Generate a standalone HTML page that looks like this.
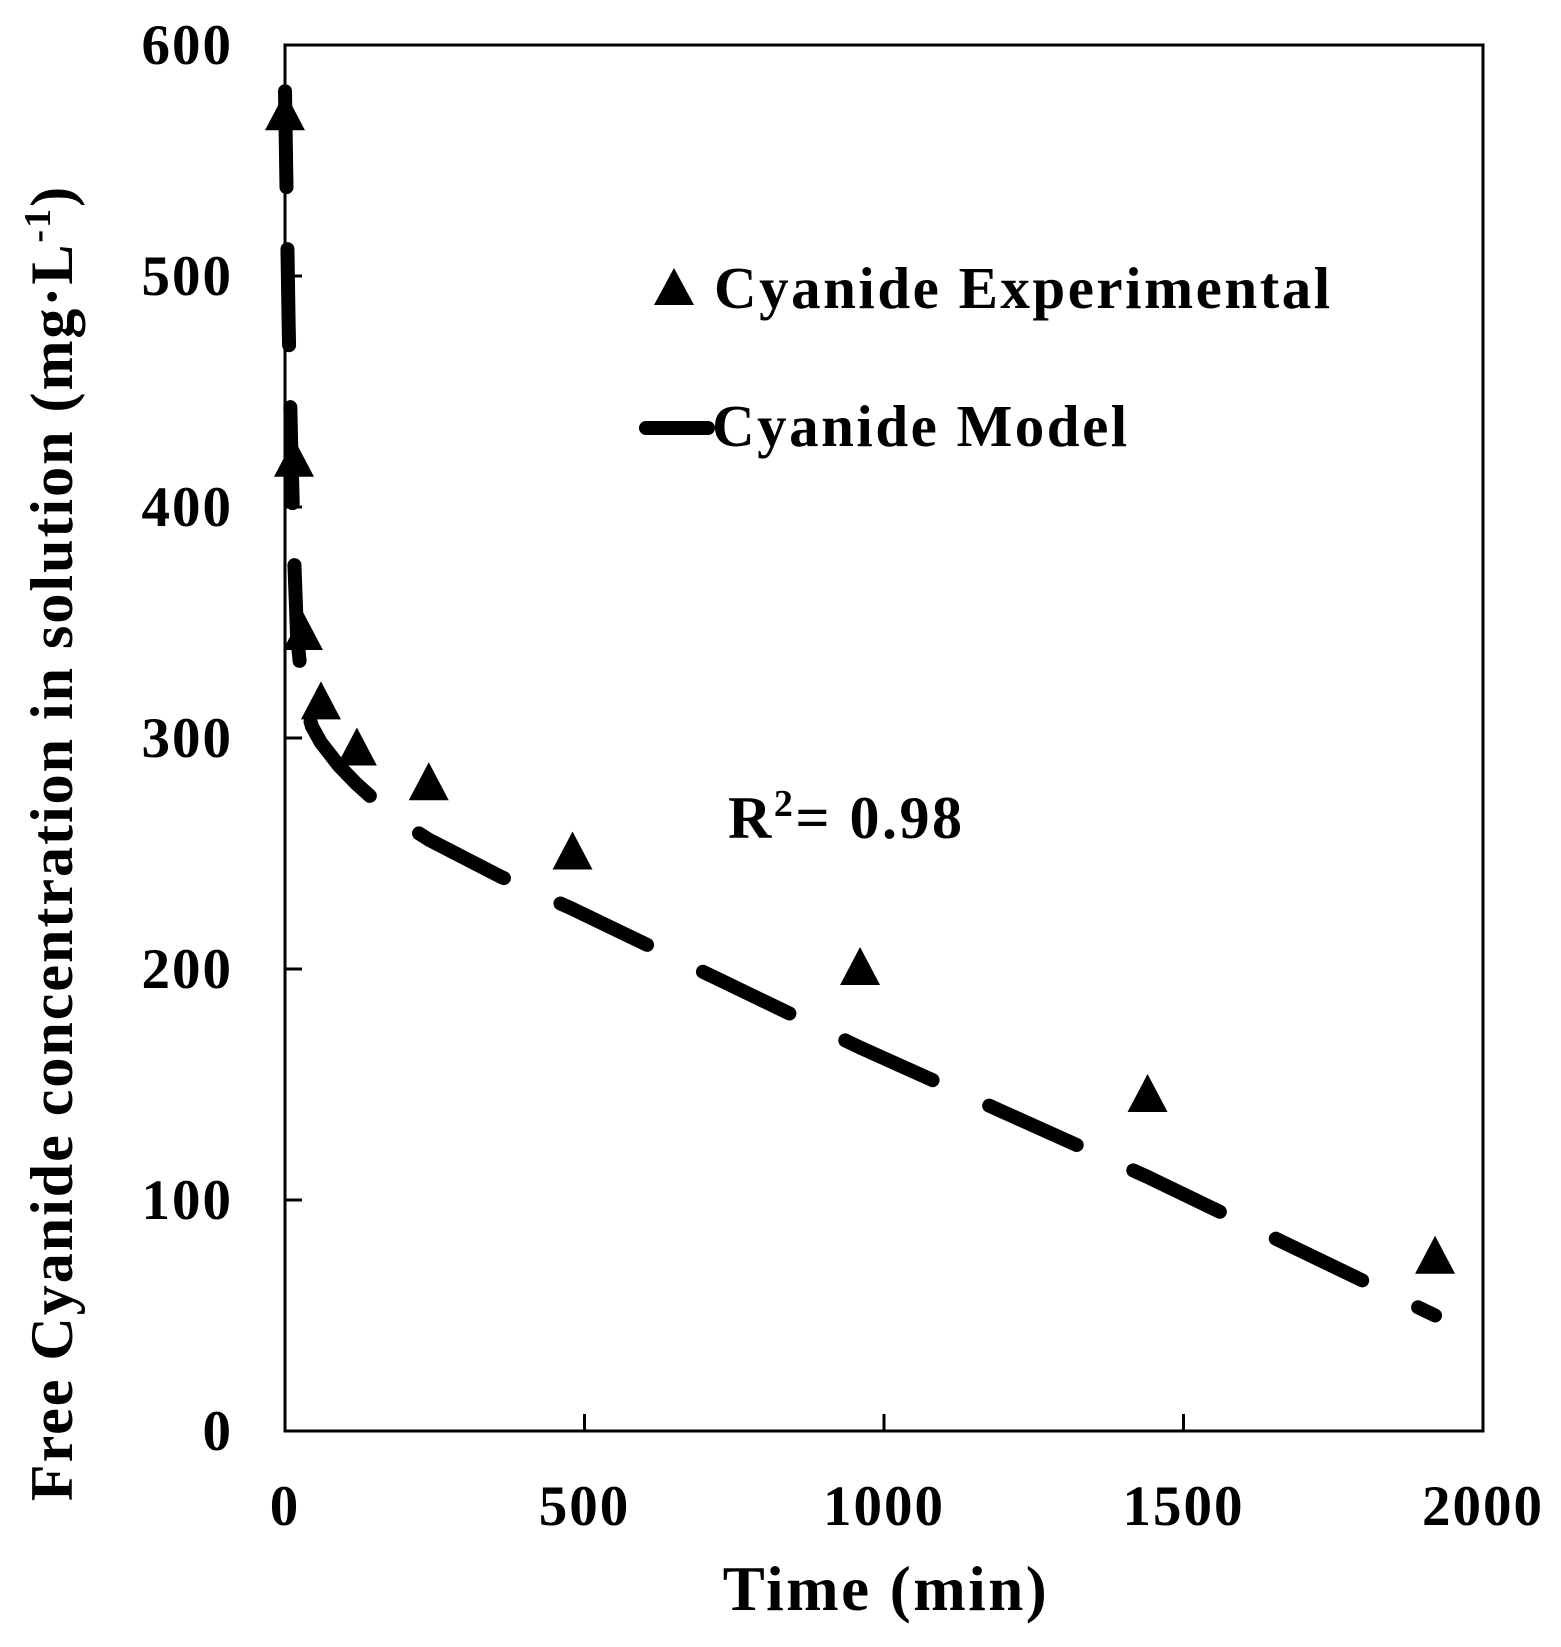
<!DOCTYPE html>
<html><head><meta charset="utf-8"><style>
html,body{margin:0;padding:0;background:#fff;}
svg{display:block;font-family:"Liberation Serif",serif;font-weight:bold;}
</style></head><body>
<svg id="chart" width="1561" height="1647" viewBox="0 0 1561 1647" xmlns="http://www.w3.org/2000/svg">
<g id="marks"></g>
<g id="axes"></g>
<g>
  <polygon points="674,268 694,305 654,305" fill="#000"/>
  <text x="714" y="308" font-size="59" letter-spacing="2.5">Cyanide Experimental</text>
  <line x1="646" y1="428" x2="708" y2="428" stroke="#000" stroke-width="14" stroke-linecap="round"/>
  <text x="712" y="446" font-size="59" letter-spacing="2.5">Cyanide Model</text>
</g>
<text x="728" y="838" font-size="60" letter-spacing="2.5">R<tspan font-size="38" dy="-22">2</tspan><tspan dy="22">= 0.98</tspan></text>
<text x="886" y="1610" font-size="63" letter-spacing="2.5" text-anchor="middle">Time (min)</text>
<text transform="translate(72,843) rotate(-90)" font-size="60" letter-spacing="2" text-anchor="middle">Free Cyanide concentration in solution (mg·L<tspan font-size="38" dy="-22">-1</tspan><tspan dy="22">)</tspan></text>
</svg>
<script>
const expTimes=[0,15,30,60,120,240,480,960,1440,1920];
const expValues=[570,420,345,315,295,280,250,200,145,75];
const modelTimes=[0,3,6,10,15,20,30,45,60,90,120,180,240,360,480,720,960,1200,1440,1680,1920];
const modelValues=[580,530,480,430,380,345,318,305,298,288,280,266,256,240,226,196,166,138,110,80,50];
const xTicks=[0,500,1000,1500,2000];
const yTicks=[0,100,200,300,400,500,600];
const L=285,R=1483,T=45,B=1431;
const xs=v=>L+(v/2000)*(R-L);
const ys=v=>B-(v/600)*(B-T);
const NS="http://www.w3.org/2000/svg";
const marks=document.getElementById('marks');
const axes=document.getElementById('axes');
function mk(tag,attrs,parent){const e=document.createElementNS(NS,tag);for(const k in attrs)e.setAttribute(k,attrs[k]);parent.appendChild(e);return e;}
const path=mk('path',{d:modelTimes.map((t,i)=>(i?'L':'M')+xs(t).toFixed(1)+','+ys(modelValues[i]).toFixed(1)).join(' '),fill:'none',stroke:'#000','stroke-width':14,'stroke-linecap':'round','stroke-linejoin':'round','stroke-dasharray':'96 62'},marks);


expTimes.forEach((t,i)=>{
  const cx=xs(t),cy=ys(expValues[i]);
  const p=mk('polygon',{points:`${cx},${cy-22} ${cx+20},${cy+16} ${cx-20},${cy+16}`,fill:'#000'},marks);
  
  
});
const f=mk('rect',{x:L,y:T,width:R-L,height:B-T,fill:'none',stroke:'#000','stroke-width':3},axes);


yTicks.forEach(v=>{
  const y=ys(v);
  const tk=mk('line',{x1:L,y1:y,x2:L+17,y2:y,stroke:'#000','stroke-width':3},axes);
  
  
  const tx=mk('text',{x:233,y:y+19,'font-size':57,'letter-spacing':2,'text-anchor':'end'},axes);
  tx.textContent=v;
  
  
});
xTicks.forEach(v=>{
  const x=xs(v);
  const tk=mk('line',{x1:x,y1:B,x2:x,y2:B-17,stroke:'#000','stroke-width':3},axes);
  
  
  const tx=mk('text',{x:x,y:1525,'font-size':57,'letter-spacing':2,'text-anchor':'middle'},axes);
  tx.textContent=v;
  
  
});
</script>
</body></html>
